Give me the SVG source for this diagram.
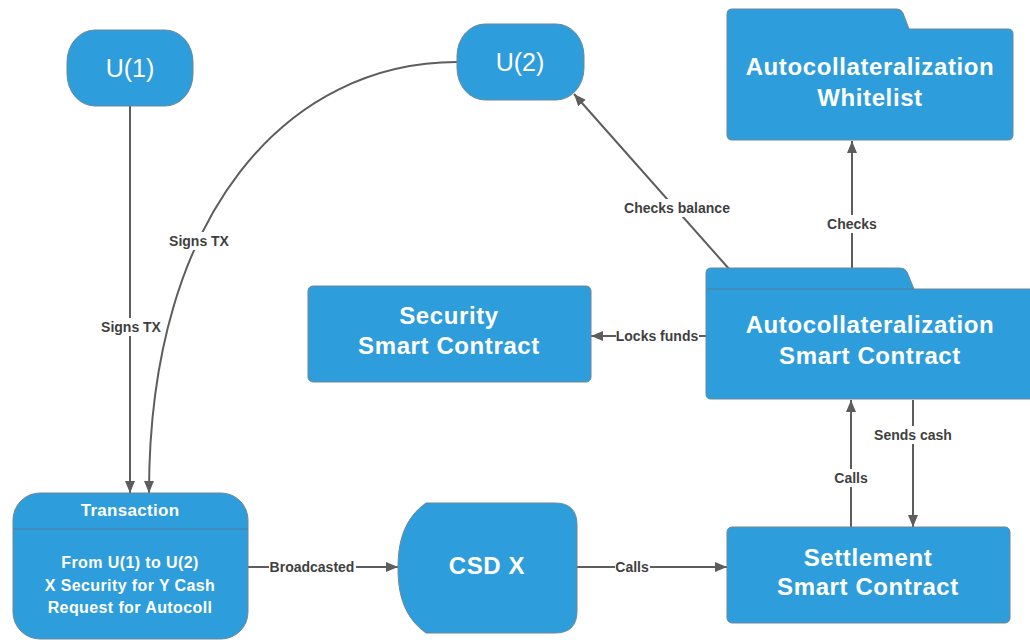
<svg xmlns="http://www.w3.org/2000/svg" width="1030" height="640" viewBox="0 0 1030 640">
  <style>
    .node { fill: #2e9ddb; stroke: #6f8796; stroke-width: 1; }
    .divider { stroke: #4f7f9c; stroke-width: 1; fill: none; }
    .title { font-family: "Liberation Sans", Arial, sans-serif; font-weight: bold; font-size: 24px; letter-spacing: 0.6px; fill: #ffffff; text-anchor: middle; }
    .term { font-family: "Liberation Sans", Arial, sans-serif; font-size: 25px; fill: #ffffff; text-anchor: middle; }
    .body { font-family: "Liberation Sans", Arial, sans-serif; font-weight: bold; font-size: 16px; letter-spacing: 0.4px; fill: #ffffff; text-anchor: middle; }
    .head { font-family: "Liberation Sans", Arial, sans-serif; font-weight: bold; font-size: 17px; letter-spacing: 0.3px; fill: #ffffff; text-anchor: middle; }
    .edge { fill: none; stroke: #5d5d5d; stroke-width: 2; }
    .lblbg { fill: #ffffff; }
    .lbl { font-family: "Liberation Sans", Arial, sans-serif; font-weight: bold; font-size: 14px; fill: #3f3f3f; text-anchor: middle; }
  </style>
  <defs>
    <marker id="arrow" viewBox="0 0 12 10" refX="12" refY="5" markerWidth="12" markerHeight="10" markerUnits="userSpaceOnUse" orient="auto">
      <path d="M0,0 L12,5 L0,10 Z" fill="#5d5d5d"/>
    </marker>
  </defs>

  <rect x="0" y="0" width="1030" height="640" fill="#ffffff"/>

  <!-- connectors -->
  <g id="connectors">
    <path class="edge" d="M130,106 V493" marker-end="url(#arrow)"/>
    <path class="edge" d="M457,62 C290,62 149,210 149,493" marker-end="url(#arrow)"/>
    <path class="edge" d="M248,567 H398" marker-end="url(#arrow)"/>
    <path class="edge" d="M577,567 H727" marker-end="url(#arrow)"/>
    <path class="edge" d="M851,527 V400" marker-end="url(#arrow)"/>
    <path class="edge" d="M913,400 V527" marker-end="url(#arrow)"/>
    <path class="edge" d="M706,336 H591" marker-end="url(#arrow)"/>
    <path class="edge" d="M730,270 L574,94" marker-end="url(#arrow)"/>
    <path class="edge" d="M852,268 V141" marker-end="url(#arrow)"/>

    <rect class="lblbg" x="100" y="318" width="62" height="18"/>
    <text class="lbl" x="131" y="332">Signs TX</text>
    <rect class="lblbg" x="168" y="232" width="62" height="18"/>
    <text class="lbl" x="199" y="246">Signs TX</text>
    <rect class="lblbg" x="269" y="558" width="87" height="18"/>
    <text class="lbl" x="312" y="572">Broadcasted</text>
    <rect class="lblbg" x="615" y="558" width="35" height="18"/>
    <text class="lbl" x="632" y="572">Calls</text>
    <rect class="lblbg" x="834" y="469" width="35" height="18"/>
    <text class="lbl" x="851" y="483">Calls</text>
    <rect class="lblbg" x="873" y="426" width="80" height="18"/>
    <text class="lbl" x="913" y="440">Sends cash</text>
    <rect class="lblbg" x="616" y="327" width="83" height="18"/>
    <text class="lbl" x="657" y="341">Locks funds</text>
    <rect class="lblbg" x="623" y="199" width="108" height="18"/>
    <text class="lbl" x="677" y="213">Checks balance</text>
    <rect class="lblbg" x="826" y="215" width="52" height="18"/>
    <text class="lbl" x="852" y="229">Checks</text>
  </g>

  <!-- nodes -->
  <g id="u1">
    <rect class="node" x="67" y="30" width="126" height="76" rx="28" ry="32"/>
    <text class="term" x="130" y="77">U(1)</text>
  </g>

  <g id="u2">
    <rect class="node" x="457" y="24" width="127" height="76" rx="28" ry="32"/>
    <text class="term" x="520" y="71">U(2)</text>
  </g>

  <g id="whitelist">
    <path class="node" d="M732,9 H897 Q901,9 903,13 L909,29 H1008 Q1013,29 1013,34 V135 Q1013,140 1008,140 H732 Q727,140 727,135 V14 Q727,9 732,9 Z"/>
    <text class="title" x="870" y="75">Autocollateralization</text>
    <text class="title" x="870" y="106">Whitelist</text>
  </g>

  <g id="autocoll-contract">
    <path class="node" d="M711,268 H900 Q905,268 907,272 L914,289 H1034 V399 H711 Q706,399 706,394 V273 Q706,268 711,268 Z"/>
    <line class="divider" x1="707" y1="289" x2="914" y2="289"/>
    <text class="title" x="870" y="333">Autocollateralization</text>
    <text class="title" x="870" y="364">Smart Contract</text>
  </g>

  <g id="security-contract">
    <rect class="node" x="308" y="286" width="283" height="96" rx="5"/>
    <text class="title" x="449" y="324">Security</text>
    <text class="title" x="449" y="354">Smart Contract</text>
  </g>

  <g id="transaction">
    <rect class="node" x="13" y="493" width="235" height="146" rx="27"/>
    <line class="divider" x1="13" y1="529" x2="248" y2="529"/>
    <text class="head" x="130" y="516">Transaction</text>
    <text class="body" x="130" y="568">From U(1) to U(2)</text>
    <text class="body" x="130" y="591">X Security for Y Cash</text>
    <text class="body" x="130" y="613">Request for Autocoll</text>
  </g>

  <g id="csd-x">
    <path class="node" d="M426,503 H555 Q577,503 577,525 V611 Q577,633 555,633 H426 C405,618 398,596 398,568 C398,540 405,518 426,503 Z"/>
    <text class="title" x="487" y="574">CSD X</text>
  </g>

  <g id="settlement-contract">
    <rect class="node" x="727" y="527" width="283" height="96" rx="5"/>
    <text class="title" x="868" y="566">Settlement</text>
    <text class="title" x="868" y="595">Smart Contract</text>
  </g>
</svg>
